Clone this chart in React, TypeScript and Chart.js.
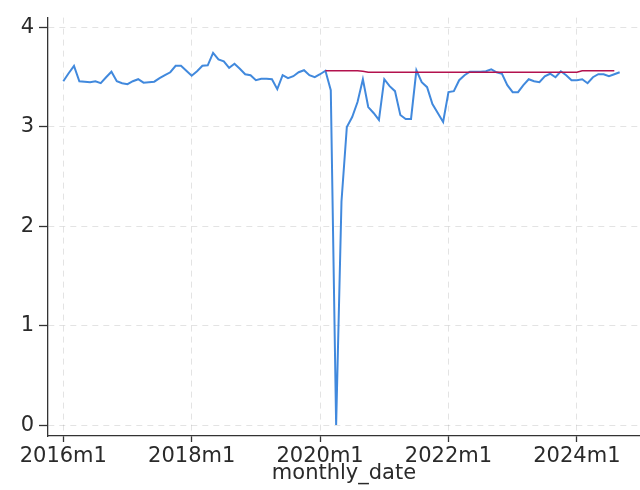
import React, { useEffect, useRef } from "react";
import { Chart, registerables } from "chart.js";

Chart.register(...registerables);

// Months counted from 2016m1 (index 0)
const xTickMonths = [0, 24, 48, 72, 96];
const xTickLabels = ["2016m1", "2018m1", "2020m1", "2022m1", "2024m1"];
const yTickValues = [0, 1, 2, 3, 4];
const xTitle = "monthly_date";

// Actual monthly series, 2016m1 .. 2024m9
const actualValues = [
  3.46, 3.54, 3.615, 3.46, 3.455, 3.45, 3.46, 3.44, 3.5, 3.555,
  3.46, 3.44, 3.43, 3.46, 3.48, 3.445, 3.45, 3.455, 3.49, 3.52,
  3.55, 3.615, 3.615, 3.565, 3.515, 3.56, 3.615, 3.62, 3.745, 3.68,
  3.66, 3.595, 3.635, 3.585, 3.53, 3.52, 3.47, 3.485, 3.485, 3.48,
  3.38, 3.52, 3.49, 3.51, 3.55, 3.57, 3.52, 3.5, 3.53, 3.565,
  3.37, 0, 2.25, 3.0, 3.1, 3.25, 3.48, 3.2, 3.14, 3.07,
  3.48, 3.41, 3.36, 3.12, 3.08, 3.08, 3.57, 3.45, 3.4, 3.23,
  3.14, 3.05, 3.35, 3.36, 3.47, 3.52, 3.555, 3.555, 3.555, 3.56,
  3.58, 3.55, 3.535, 3.42, 3.35, 3.35, 3.42, 3.48, 3.46, 3.45,
  3.51, 3.535, 3.5, 3.56, 3.52, 3.47, 3.47, 3.48, 3.44, 3.5,
  3.53, 3.53, 3.51, 3.53, 3.55,
];

// Counterfactual series, starting 2020m2 (index 49)
const counterfactualStart = 49;
const counterfactualValues = [
  3.565, 3.565, 3.565, 3.565, 3.565, 3.565, 3.565, 3.56,
  3.55, 3.55, 3.55, 3.55, 3.55, 3.55, 3.55, 3.55, 3.55, 3.55,
  3.55, 3.55, 3.55, 3.55, 3.55, 3.55, 3.55, 3.55, 3.55, 3.55,
  3.55, 3.55, 3.55, 3.55, 3.55, 3.55, 3.55, 3.55, 3.55, 3.55,
  3.55, 3.55, 3.55, 3.55, 3.55, 3.55, 3.55, 3.55, 3.55, 3.55,
  3.565, 3.565, 3.565, 3.565, 3.565, 3.565, 3.565,
];

const FONT = "'DejaVu Sans', sans-serif";
const TEXT = "#2a2a2a";
const AXIS = "#333333";
const GRID = "rgba(0,0,0,0.11)";

export default function App() {
  const ref = useRef<HTMLCanvasElement | null>(null);

  useEffect(() => {
    if (!ref.current) return;
    const actual = actualValues.map((v, i) => ({ x: i, y: v }));
    const cf = counterfactualValues.map((v, i) => ({ x: counterfactualStart + i, y: v }));
    const chart = new Chart(ref.current, {
      type: "line",
      data: {
        datasets: [
          {
            data: cf,
            borderColor: "#b3124e",
            borderWidth: 1.6,
            pointRadius: 0,
            tension: 0,
            fill: false,
          },
          {
            data: actual,
            borderColor: "#4189dd",
            borderWidth: 2,
            pointRadius: 0,
            tension: 0,
            fill: false,
          },
        ],
      },
      options: {
        animation: false,
        responsive: true,
        maintainAspectRatio: false,
        layout: { padding: { top: 13, right: 0, left: 0, bottom: 0 } },
        plugins: {
          legend: { display: false },
          tooltip: { enabled: false },
        },
        scales: {
          x: {
            type: "linear",
            min: -2.86,
            max: 107.8,
            afterBuildTicks: (s: any) => {
              s.ticks = xTickMonths.map((v) => ({ value: v }));
            },
            afterFit: (s: any) => {
              s.height = 54;
            },
            ticks: {
              autoSkip: false,
              maxRotation: 0,
              padding: 2,
              color: TEXT,
              font: { family: FONT, size: 21 },
              callback: (v: any) => {
                const i = xTickMonths.indexOf(Number(v));
                return i >= 0 ? xTickLabels[i] : "";
              },
            },
            grid: {
              color: GRID,
              lineWidth: 1,
              drawTicks: true,
              tickLength: 6,
              tickColor: AXIS,
              tickWidth: 1.3,
            },
            border: { display: true, color: AXIS, width: 1.3, dash: [6, 5] },
            title: {
              display: true,
              text: xTitle,
              color: TEXT,
              font: { family: FONT, size: 21 },
              padding: { top: 0, bottom: 4 },
            },
          },
          y: {
            type: "linear",
            min: -0.11,
            max: 4.1,
            afterBuildTicks: (s: any) => {
              s.ticks = yTickValues.map((v) => ({ value: v }));
            },
            afterFit: (s: any) => {
              s.width = 48;
            },
            ticks: {
              padding: 5,
              color: TEXT,
              font: { family: FONT, size: 21 },
              callback: (v: any) => String(v),
            },
            grid: {
              color: GRID,
              lineWidth: 1,
              drawTicks: true,
              tickLength: 9,
              tickColor: AXIS,
              tickWidth: 1.3,
            },
            border: { display: true, color: AXIS, width: 1.3, dash: [6, 5] },
          },
        },
      },
    });
    return () => chart.destroy();
  }, []);

  return (
    <div style={{ position: "fixed", left: 0, top: 0, width: 640, height: 490, background: "#fff" }}>
      <canvas ref={ref} />
    </div>
  );
}
